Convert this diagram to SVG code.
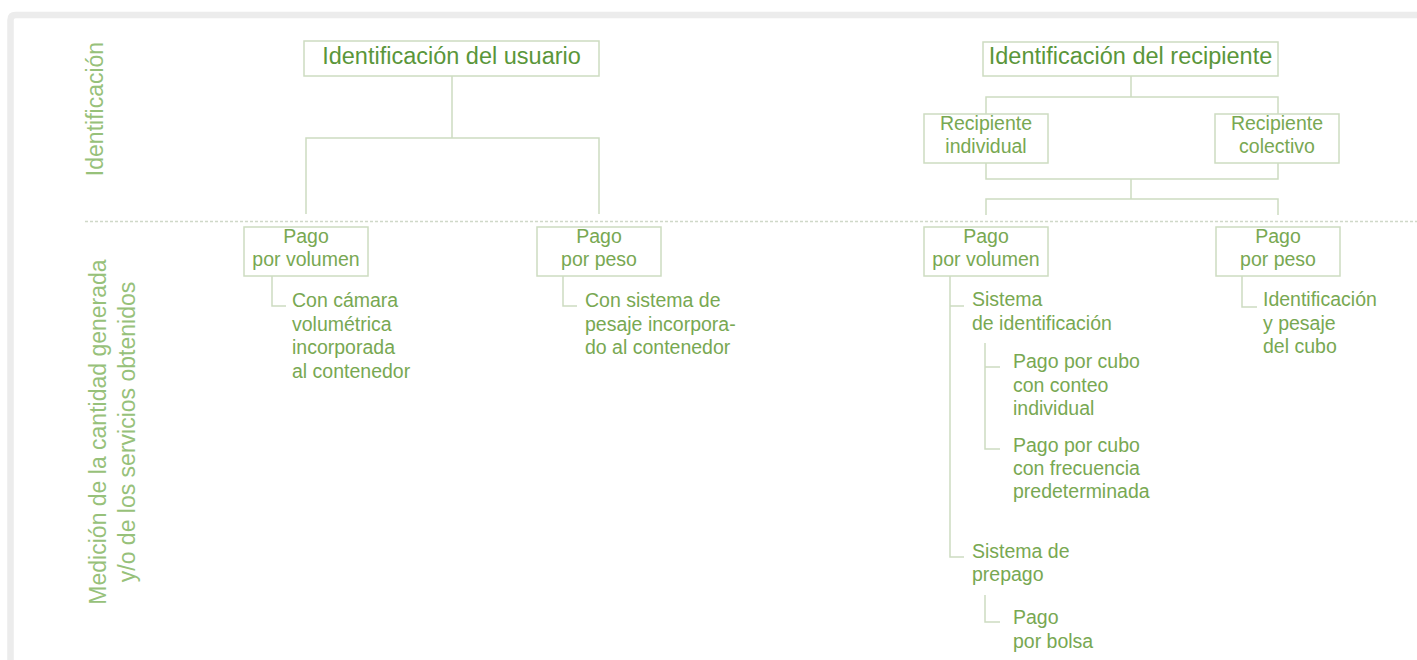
<svg xmlns="http://www.w3.org/2000/svg" width="1417" height="660" viewBox="0 0 1417 660">
<style>
.frame{fill:none;stroke:#ececec;stroke-width:6.5;stroke-linejoin:round}
.box{fill:#ffffff;stroke:#cddcc1;stroke-width:1.5}
.ln{fill:none;stroke:#cddcc1;stroke-width:1.5}
.dash{fill:none;stroke:#cfd8c8;stroke-width:1.5;stroke-dasharray:3 2}
text{font-family:"Liberation Sans",Arial,sans-serif}
.h{font-size:23.5px;fill:#5a963a;text-anchor:middle}
.b{font-size:19.5px;fill:#78a852;text-anchor:middle}
.t{font-size:19.5px;fill:#78a852}
.v{font-size:23px;fill:#97c17a;text-anchor:middle}
</style>
<rect width="1417" height="660" fill="#ffffff"/>
<path class="frame" d="M10.5 660 V20 Q10.5 15 15.5 15 H1417"/>
<g id="labels">
<text class="v" transform="translate(103,109) rotate(-90)">Identificación</text>
<text class="v" transform="translate(106,432) rotate(-90)">Medición de la cantidad generada</text>
<text class="v" transform="translate(135,432) rotate(-90)">y/o de los servicios obtenidos</text>
</g>
<g id="connectors">
<path class="dash" d="M85 221.5 H1417"/>
<path class="ln" d="M452 76 V138 M306 214 V138 H599 V214"/>
<path class="ln" d="M272 276 V306 H286"/>
<path class="ln" d="M563 276 V306 H577"/>
<path class="ln" d="M1131 76 V97 M986 114 V97 H1278 V114"/>
<path class="ln" d="M986 163 V179 H1278 V163 M1131 179 V199 M986 215 V199 H1278 V215"/>
<path class="ln" d="M950 276 V557 H964 M950 306 H964"/>
<path class="ln" d="M985 343 V449 H1000 M985 367 H1000"/>
<path class="ln" d="M985 595 V622 H1000"/>
<path class="ln" d="M1242 276 V307 H1257"/>
</g>
<g id="n-usuario">
<rect class="box" x="304" y="41" width="295" height="35"/>
<text class="h" x="451.5" y="63.5">Identificación del usuario</text>
</g>
<g id="n-recipiente">
<rect class="box" x="983" y="42" width="295" height="34"/>
<text class="h" x="1130.5" y="63.5">Identificación del recipiente</text>
</g>
<g id="n-rec-individual">
<rect class="box" x="924" y="114" width="124" height="49"/>
<text class="b" x="986" y="130">Recipiente</text>
<text class="b" x="986" y="153">individual</text>
</g>
<g id="n-rec-colectivo">
<rect class="box" x="1215" y="114" width="124" height="49"/>
<text class="b" x="1277" y="130">Recipiente</text>
<text class="b" x="1277" y="153">colectivo</text>
</g>
<g id="n-pv1">
<rect class="box" x="244" y="227" width="124" height="49"/>
<text class="b" x="306" y="243">Pago</text>
<text class="b" x="306" y="266">por volumen</text>
</g>
<g id="n-pp1">
<rect class="box" x="537" y="227" width="124" height="49"/>
<text class="b" x="599" y="243">Pago</text>
<text class="b" x="599" y="266">por peso</text>
</g>
<g id="n-pv2">
<rect class="box" x="924" y="227" width="124" height="49"/>
<text class="b" x="986" y="243">Pago</text>
<text class="b" x="986" y="266">por volumen</text>
</g>
<g id="n-pp2">
<rect class="box" x="1216" y="227" width="124" height="49"/>
<text class="b" x="1278" y="243">Pago</text>
<text class="b" x="1278" y="266">por peso</text>
</g>
<g id="n-camara">
<text class="t" x="292" y="307">Con cámara</text>
<text class="t" x="292" y="330.5">volumétrica</text>
<text class="t" x="292" y="354">incorporada</text>
<text class="t" x="292" y="377.5">al contenedor</text>
</g>
<g id="n-pesaje">
<text class="t" x="585" y="307">Con sistema de</text>
<text class="t" x="585" y="330.5">pesaje incorpora-</text>
<text class="t" x="585" y="354">do al contenedor</text>
</g>
<g id="n-sist-ident">
<text class="t" x="972" y="306">Sistema</text>
<text class="t" x="972" y="330">de identificación</text>
</g>
<g id="n-conteo">
<text class="t" x="1013" y="368">Pago por cubo</text>
<text class="t" x="1013" y="391.5">con conteo</text>
<text class="t" x="1013" y="415">individual</text>
</g>
<g id="n-frecuencia">
<text class="t" x="1013" y="451.5">Pago por cubo</text>
<text class="t" x="1013" y="475">con frecuencia</text>
<text class="t" x="1013" y="498">predeterminada</text>
</g>
<g id="n-prepago">
<text class="t" x="972" y="558">Sistema de</text>
<text class="t" x="972" y="581">prepago</text>
</g>
<g id="n-bolsa">
<text class="t" x="1013" y="624">Pago</text>
<text class="t" x="1013" y="647.5">por bolsa</text>
</g>
<g id="n-ident-pesaje">
<text class="t" x="1263" y="306">Identificación</text>
<text class="t" x="1263" y="329.5">y pesaje</text>
<text class="t" x="1263" y="353">del cubo</text>
</g>
</svg>
